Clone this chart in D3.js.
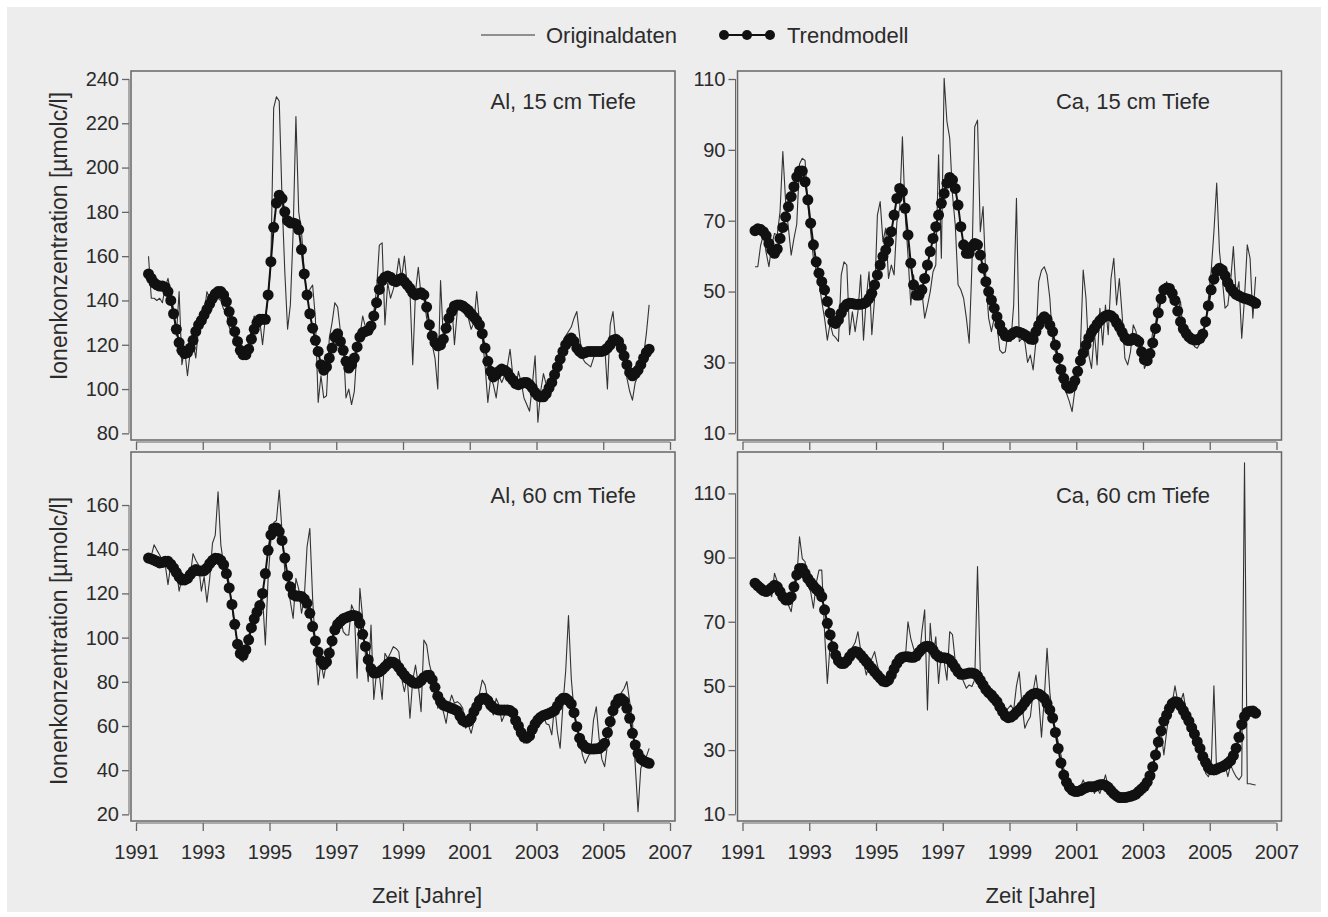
<!DOCTYPE html>
<html>
<head>
<meta charset="utf-8">
<title>Al und Ca Ionenkonzentration</title>
<script src="https://cdn.jsdelivr.net/npm/d3@7"></script>
<style>
body { margin: 0; background: #fff; }
svg { display: block; font-family: "Liberation Sans", Arial, sans-serif; }
</style>
</head>
<body>
<script>
// monthly samples, mid-May 1991 to mid-May 2006
const months = d3.range(181).map(i => 1991 + (4.5 + i) / 12);
const xTicks = [1991, 1993, 1995, 1997, 1999, 2001, 2003, 2005, 2007];
const yTicksAl15 = [80, 100, 120, 140, 160, 180, 200, 220, 240];
const yTicksAl60 = [20, 40, 60, 80, 100, 120, 140, 160];
const yTicksCa = [10, 30, 50, 70, 90, 110];

// Al, 15 cm
const al15 = [160, 141, 141, 140, 141, 139, 146, 150,
  143, 136, 124, 144, 111, 118, 106, 117, 121, 114, 128, 131,
  134, 144, 141, 142, 144, 141, 140, 136, 135, 128, 125, 123,
  124, 115, 114, 118, 121, 127, 133, 130, 131, 120, 132, 141,
  157, 227, 232, 230, 186, 153, 127, 138, 171, 223, 180, 171,
  153, 142, 145, 147, 132, 94, 106, 96, 97, 123, 130, 139,
  137, 126, 121, 96, 100, 93, 99, 118, 124, 133, 128, 126,
  130, 135, 145, 165, 166, 129, 148, 141, 145, 150, 159, 150,
  160, 147, 144, 111, 144, 155, 142, 141, 132, 127, 120, 114,
  100, 149, 123, 132, 127, 139, 120, 135, 138, 136, 133, 132,
  127, 130, 144, 130, 123, 111, 94, 105, 102, 96, 106, 103,
  106, 110, 118, 106, 100, 108, 103, 96, 93, 90, 102, 115,
  85, 99, 107, 102, 104, 106, 111, 111, 114, 117, 124, 126,
  128, 132, 135, 124, 114, 112, 111, 110, 114, 117, 117, 117,
  120, 100, 129, 135, 122, 123, 118, 114, 105, 99, 95, 103,
  106, 111, 115, 125, 138];
const al15Trend = [152, 150, 148, 147, 146.5, 146.5, 146, 144,
  140, 134, 127, 121, 117.5, 116, 116.5, 118.5, 122, 126, 129, 131,
  133.5, 136, 138.5, 141, 143, 144, 144, 142.5, 139.5, 135, 130.5, 126,
  121.5, 117.5, 115.5, 115.5, 118, 122.5, 127, 130, 131.5, 131.5, 131.5, 142.5,
  157.5, 173, 184, 187.5, 186, 180, 176, 175, 175, 174.5, 172, 163,
  152, 142.5, 134, 127.5, 122, 117, 111, 108.5, 110, 114, 118.5, 123.5,
  125, 121.5, 117.5, 112.5, 109.5, 111, 114, 119, 123.5, 125.5, 126, 126.5,
  128.5, 133, 139, 145, 149, 150.5, 151, 150.5, 149, 148.5, 149.5, 150,
  148.5, 147, 145.5, 143.5, 142.5, 143, 143.5, 142.5, 137, 129, 124, 121,
  119.5, 120, 122.5, 127.5, 132, 135, 137.5, 138, 138, 137.5, 136.5, 135.5,
  134, 132.5, 131, 129, 125, 118.5, 112.5, 108, 105.5, 106.5, 108, 109,
  108.5, 107.5, 105.5, 104, 102.5, 102, 102.5, 103, 103, 102, 100.5, 98.5,
  97, 96.5, 96.5, 98, 100.5, 103, 106.5, 110, 113.5, 117, 120, 122,
  123, 121.5, 118.5, 117, 116, 116.5, 117, 117, 117, 117, 117, 117,
  117.5, 118.5, 120, 122, 122.5, 121.5, 118.5, 115, 111, 107.5, 106, 107,
  108.5, 111, 114, 116.5, 118];

// Ca, 15 cm
const ca15 = [57, 57, 63, 66, 61, 57, 63, 66.4,
  66, 72.6, 89.5, 75.4, 68, 60.3, 65, 69, 86, 87.6, 87, 74.4,
  67, 59.4, 56, 52.8, 47.2, 42.5, 36.3, 41, 37.8, 37, 35.9, 54.7,
  58.4, 57.5, 37.8, 44.3, 38.7, 44.3, 54.7, 36.3, 48.1, 55.6, 37.8, 48.1,
  71.6, 75.4, 64.1, 67.9, 53.7, 57.5, 54.7, 69.7, 73.5, 93.7, 71.6, 60.3,
  46.2, 54.7, 48.1, 48.1, 50, 42.5, 46, 50, 55.6, 57.5, 88.6, 59.4,
  110.2, 98, 93.3, 77.3, 68.8, 51.9, 50.5, 48.1, 42.5, 35.4, 57.5, 96.5,
  98.4, 66.9, 74, 53.7, 42.5, 38.7, 42.5, 40.6, 33.5, 32.6, 33, 38.7,
  35.9, 46.2, 76.3, 35.9, 36.8, 35.9, 30, 32.1, 27.9, 35.9, 52.8, 56,
  57, 54.7, 48.1, 35.9, 33, 31.2, 27.4, 23.6, 21.3, 19, 16.1, 22.2,
  23.6, 34, 56.1, 48.1, 32.1, 28.3, 38.7, 29.3, 45.3, 34.9, 46.2, 37.8,
  53.7, 59.4, 46.2, 53.7, 43.4, 31.2, 29.3, 33, 40.6, 38.7, 33, 35.9,
  28.3, 30.2, 32.6, 38.7, 40.6, 47.2, 49, 48.1, 52.8, 48.1, 47, 46.2,
  44.3, 47.2, 37.8, 38.7, 37, 36.8, 34.5, 34, 35.4, 37.8, 40.6, 48,
  55.6, 66.9, 80.6, 61.3, 53.7, 45.3, 46.2, 52.8, 62.7, 49, 52.8, 36.8,
  48.1, 63.2, 59.4, 42.5, 54.2];
const ca15Trend = [67.2, 67.7, 67.5, 66.9, 65.8, 63.6, 61.7, 60.8,
  62, 65, 68.1, 71.1, 74, 76.8, 79.6, 82.4, 84, 84, 81, 75.9,
  69.3, 63.2, 58.4, 55.2, 52.8, 50.5, 47.2, 43.9, 41.5, 41, 42, 43.9,
  45.5, 46.4, 46.7, 46.6, 46.4, 46.4, 46.4, 46.6, 47, 48.1, 49.5, 51.9,
  54.7, 57.5, 59.9, 61.7, 64.1, 66.9, 71.6, 76.3, 79.1, 78.2, 73.5, 66,
  58, 51.9, 49, 49, 50.5, 53.7, 57.5, 61.3, 65, 68.3, 71.6, 74.9,
  77.7, 80.6, 82.2, 81.5, 79.1, 74.4, 68.3, 63.2, 60.8, 60.8, 62.7, 63.6,
  63.2, 60.3, 56.6, 52.8, 50, 47.6, 45.3, 42.9, 40.6, 38.7, 37.5, 37.3,
  37.8, 38.4, 38.7, 38.5, 38.2, 37.8, 37.3, 36.6, 36.5, 38.7, 40.5, 42,
  42.9, 42.2, 40.5, 38.7, 34.9, 31.2, 28, 25.5, 23.5, 22.7, 23.2, 24.8,
  27.5, 30.5, 32.6, 34.9, 36.9, 38.5, 39.6, 40.8, 41.8, 42.6, 43.1, 43.4,
  43.2, 42.5, 41.2, 40, 38.5, 37, 36.2, 36.2, 36.8, 36.5, 35.9, 33,
  30.8, 30.5, 32.5, 35.5, 39.6, 44, 48, 50.5, 51, 50.9, 49.5, 47.5,
  44.5, 41.5, 39.5, 38.2, 37.2, 36.6, 36.3, 36.4, 36.8, 38, 41.5, 46,
  50.5, 53.5, 55.8, 56.6, 56.1, 54.5, 52.5, 51, 50, 49.2, 48.8, 48.4,
  48.1, 47.9, 47.6, 47.2, 46.7];

// Al, 60 cm
const al60 = [136, 137, 142, 139.6, 137.4, 135, 133, 124,
  133, 134.4, 131, 121, 126.8, 127.6, 129.8, 127.6, 138, 135, 132.9, 121,
  127.6, 116, 126.8, 142.7, 146.4, 166, 142, 133, 133, 124, 114, 105,
  98, 90, 89, 96, 101, 105, 110.2, 110.2, 114.8, 118.5, 96.7, 126.8,
  144.2, 152, 153, 166.8, 148, 130, 124.6, 116.3, 108.7, 126.8, 122, 111,
  117.8, 141.1, 149.4, 117.8, 95.9, 78.6, 89.1, 81.6, 89.1, 93.6, 99.7, 106.5,
  107.2, 109.5, 102.7, 101.2, 101.2, 114.8, 111.7, 81.6, 122.3, 108.7, 92, 80,
  105.7, 72, 84.6, 83.1, 72, 92.9, 90.6, 93, 95.9, 95.1, 93.6, 81.6,
  75.5, 82.3, 63.5, 80.8, 87.6, 78.6, 66.5, 98.9, 96.7, 88, 83.1, 78.6,
  68, 71, 66.5, 61.2, 69.5, 74, 70.3, 71, 70, 68, 59, 60.5,
  56.7, 62, 66.5, 74.8, 80.8, 78.6, 72, 68, 65, 72.5, 69.5, 62,
  65, 66.5, 68, 65, 62, 60.5, 56, 52.2, 54.4, 56, 57.4, 62,
  65, 62, 65, 61, 60.5, 56, 69.5, 57.4, 49.9, 69.5, 85, 110,
  81.6, 66.5, 59, 54.4, 46.9, 43.1, 46, 48.4, 62.7, 68.7, 54.4, 45,
  41.6, 51.4, 57.4, 63.5, 68, 72.5, 75, 77, 80.1, 71, 62, 42.4,
  21.2, 40.9, 43.5, 46.1, 49.9];
const al60Trend = [136, 135.6, 135.1, 134.5, 133.8, 134, 134.6, 134.5,
  133.2, 131.5, 129.5, 127.5, 126.1, 126.1, 126.8, 128.5, 130, 130.8, 130.3, 130.1,
  130.3, 131.5, 133.5, 135, 135.9, 135.8, 135, 133, 129, 122.5, 115, 106,
  97, 92.8, 92, 94.5, 99, 104.5, 108.5, 111.5, 114.5, 120, 129, 139.5,
  146.5, 149.4, 149.6, 148, 144, 136, 128, 123, 119.5, 118.8, 118.8, 118.6,
  117.5, 115.5, 111, 105, 98.5, 93.5, 89.5, 87.8, 89, 93, 98.5, 103.5,
  106, 107.3, 108.5, 109, 109.5, 110, 110, 109.5, 106.5, 101.5, 96, 90,
  86, 84, 84, 84.5, 85.5, 86.8, 88, 89, 88.9, 88, 86.5, 84.6,
  83, 81.5, 80.8, 79.7, 79.3, 79.5, 80.5, 82, 82.8, 83, 81, 77.5,
  73.5, 71, 69.5, 69, 68.5, 68, 67.5, 66.8, 64.5, 62.5, 61.8, 62,
  63.5, 66.5, 68.8, 71.5, 72.5, 72.5, 71.5, 69.5, 68.3, 67.6, 67.2, 67.2,
  67.2, 67.2, 67, 66, 62.5, 60, 57, 55, 54.5, 55.5, 58.5, 61,
  62.8, 64, 64.8, 65.2, 65.7, 66.3, 67, 69, 71.3, 72.5, 72.5, 71.5,
  70, 66, 59.7, 54.5, 51.8, 50.5, 49.8, 49.6, 49.6, 49.7, 49.8, 50.8,
  52.2, 57, 62, 67, 70, 72.2, 72.4, 71.2, 68, 63.5, 56.7, 51.4,
  47.5, 45.2, 44.2, 43.6, 43.1];

// Ca, 60 cm
const ca60 = [82.5, 81.4, 80.4, 80.4, 78.8, 79.4, 77.8, 85.1,
  82.5, 81.4, 77.8, 75.7, 75.2, 73.1, 79.4, 83.5, 96.5, 89.7, 88.7, 81.4,
  79.4, 74.2, 82, 86.1, 86.1, 66.9, 50.8, 62.8, 59.6, 57.6, 57.6, 57.6,
  58.5, 59.1, 60.2, 62, 63.5, 66.9, 61, 57.6, 53.4, 56.5, 58.5, 60.7,
  56.5, 53.4, 51.8, 51.8, 52, 53.4, 56.5, 59.6, 60.2, 57, 58, 70,
  64.8, 61.7, 58.6, 58, 66.9, 73.7, 42.5, 69.5, 58.6, 65.3, 50.8, 60.7,
  57.6, 51.8, 66.9, 66, 57.6, 52.4, 53.4, 51.3, 49.3, 50.3, 49.8, 52,
  87.2, 54.4, 52.4, 49.3, 45.6, 46.1, 47.7, 45.1, 43, 42, 42, 43,
  44, 42.5, 50, 54.4, 44, 36.8, 38.9, 40.4, 48.2, 53.4, 46.1, 34,
  46.1, 61.7, 48, 40, 36.8, 32.6, 28.5, 24.3, 21.7, 19.1, 18.1, 17.1,
  18, 18.6, 20.7, 18.5, 17.1, 19.1, 16.5, 18.1, 16.5, 19.1, 22.3, 18.6,
  17.1, 16, 15, 14.5, 14.7, 15, 15.5, 16, 16.5, 17, 17.8, 19,
  19.7, 21.2, 22.8, 25, 30, 34.5, 35.8, 28.5, 35.8, 42, 44.6, 50,
  45.1, 45.1, 47.7, 42, 38.9, 36, 33, 30, 29, 27.4, 22.8, 21.7,
  24, 50, 22.3, 23.8, 24.3, 25.4, 21.7, 25.4, 23.3, 21.7, 20.7, 22,
  119.5, 19.5, 19.5, 19.3, 19.1];
const ca60Trend = [82, 81.2, 80.4, 79.7, 79.4, 79.9, 80.6, 81.4,
  80.9, 79.4, 77.8, 76.8, 76.8, 77.8, 80.9, 84.6, 86.6, 86.6, 85.1, 83.5,
  82.3, 81.2, 80.2, 79.4, 77.8, 73.7, 69.5, 65.9, 62.2, 59.6, 57.8, 57,
  57, 57.8, 59.1, 60.2, 60.7, 60.5, 59.6, 58.6, 57.6, 56.5, 55.5, 54.4,
  53.4, 52.4, 51.5, 51.3, 51.8, 53.4, 55.3, 57, 58.3, 58.9, 59.1, 59.1,
  58.9, 58.9, 59.4, 60.5, 61.5, 62.2, 62.4, 62.2, 61.2, 59.9, 59.1, 58.8,
  58.8, 58.6, 58.1, 57, 55.7, 54.4, 53.6, 53.6, 53.8, 54, 54, 53.8,
  53.1, 51.8, 50.3, 48.9, 47.9, 47.2, 46.1, 45.1, 43.5, 42, 40.7, 40.1,
  40.3, 40.9, 41.8, 42.5, 43.6, 44.8, 45.9, 46.9, 47.5, 47.7, 47.5, 46.9,
  46.1, 44.5, 42.5, 40, 35.5, 30.5, 26, 22.2, 20, 18.5, 17.5, 17.1,
  17.1, 17.4, 17.9, 18.3, 18.6, 18.6, 18.6, 18.9, 19.2, 19.3, 19, 18.4,
  17.4, 16.4, 15.7, 15.2, 15.2, 15.2, 15.4, 15.6, 15.9, 16.3, 17.1, 17.9,
  18.7, 20, 22, 24.8, 28.5, 32.5, 36, 39, 40.9, 43, 44.5, 45.1,
  44.9, 43.8, 42.3, 40.7, 39, 37, 35, 32.6, 30.5, 28, 26.2, 24.6,
  23.9, 23.8, 24.1, 24.5, 24.8, 25.3, 25.9, 26.7, 28.3, 30.6, 34, 38,
  40.5, 41.8, 42.1, 42.2, 41.5];

const panels = [
  {title: "Al, 15 cm Tiefe", raw: al15, trend: al15Trend, yTicks: yTicksAl15, yDomain: [77, 243.6], col: 0, row: 0},
  {title: "Ca, 15 cm Tiefe", raw: ca15, trend: ca15Trend, yTicks: yTicksCa, yDomain: [8.1, 112.26], col: 1, row: 0},
  {title: "Al, 60 cm Tiefe", raw: al60, trend: al60Trend, yTicks: yTicksAl60, yDomain: [17, 184], col: 0, row: 1},
  {title: "Ca, 60 cm Tiefe", raw: ca60, trend: ca60Trend, yTicks: yTicksCa, yDomain: [7.9, 122.9], col: 1, row: 1}
];

const colX = [131, 737.5], rowY = [71, 452], boxW = 544, boxH = 369;
const titleX = [505, 472.5], titleY = [38, 51];
const yLabelMid = [165, 189];
const ink = "#2b2b2b", frame = "#666";

const svg = d3.select("body").append("svg")
    .attr("width", 1328)
    .attr("height", 917);

svg.append("rect")
    .attr("x", 7).attr("y", 7)
    .attr("width", 1314).attr("height", 905)
    .attr("fill", "#ededed");

const x = d3.scaleLinear().domain([1990.85, 2007.15]).range([0, boxW]);

panels.forEach(p => {
    const g = svg.append("g")
        .attr("transform", "translate(" + colX[p.col] + "," + rowY[p.row] + ")");
    const y = d3.scaleLinear().domain(p.yDomain).range([boxH, 0]);

    g.append("rect")
        .attr("width", boxW).attr("height", boxH)
        .attr("fill", "none")
        .attr("stroke", frame)
        .attr("stroke-width", 1.5);

    // y axis, just outside the box
    const ya = g.append("g")
        .attr("transform", "translate(-2,0)")
        .call(d3.axisLeft(y).tickValues(p.yTicks).tickSize(7).tickPadding(3));
    ya.select(".domain").remove();
    ya.append("line")
        .attr("y1", y(p.yTicks[0])).attr("y2", y(p.yTicks[p.yTicks.length - 1]))
        .attr("stroke", frame);

    // x axis, ticks on every panel, labels on the bottom row
    const xa = g.append("g")
        .attr("transform", "translate(0," + (boxH + 2) + ")")
        .call(d3.axisBottom(x).tickValues(xTicks).tickSize(8).tickPadding(14)
            .tickFormat(p.row === 1 ? d3.format("d") : ""));
    xa.select(".domain").remove();
    xa.append("line")
        .attr("x1", x(xTicks[0])).attr("x2", x(xTicks[xTicks.length - 1]))
        .attr("stroke", frame);

    [ya, xa].forEach(a => {
        a.selectAll(".tick line").attr("stroke", frame).attr("stroke-width", 1.3);
        a.selectAll(".tick text").attr("fill", ink).attr("font-size", 20)
            .attr("font-family", "Liberation Sans, Arial, sans-serif");
    });

    const line = d3.line()
        .x((d, i) => x(months[i]))
        .y(d => y(d));

    g.append("path")
        .datum(p.raw)
        .attr("d", line)
        .attr("fill", "none")
        .attr("stroke", "#333")
        .attr("stroke-width", 1.1)
        .attr("stroke-linejoin", "round");

    g.append("path")
        .datum(p.trend)
        .attr("d", line)
        .attr("fill", "none")
        .attr("stroke", "#111")
        .attr("stroke-width", 2);

    g.selectAll("circle.trend")
        .data(p.trend)
        .join("circle")
        .attr("class", "trend")
        .attr("cx", (d, i) => x(months[i]))
        .attr("cy", d => y(d))
        .attr("r", 5.5)
        .attr("fill", "#111");

    g.append("text")
        .attr("x", titleX[p.col])
        .attr("y", titleY[p.row])
        .attr("text-anchor", "end")
        .attr("font-size", 22)
        .attr("fill", ink)
        .text(p.title);

    if (p.col === 0) {
        g.append("text")
            .attr("transform", "translate(-64," + yLabelMid[p.row] + ") rotate(-90)")
            .attr("text-anchor", "middle")
            .attr("font-size", 23)
            .attr("fill", ink)
            .text("Ionenkonzentration [µmolc/l]");
    }
    if (p.row === 1) {
        g.append("text")
            .attr("x", boxW / 2 + (p.col === 0 ? 24 : 31))
            .attr("y", boxH + 82)
            .attr("text-anchor", "middle")
            .attr("font-size", 22)
            .attr("fill", ink)
            .text("Zeit [Jahre]");
    }
});

// legend
const legend = svg.append("g");
legend.append("line")
    .attr("x1", 481).attr("x2", 535).attr("y1", 35).attr("y2", 35)
    .attr("stroke", "#333").attr("stroke-width", 1.2);
legend.append("text")
    .attr("x", 546).attr("y", 43)
    .attr("font-size", 22).attr("fill", ink)
    .text("Originaldaten");
legend.append("line")
    .attr("x1", 724).attr("x2", 770).attr("y1", 35).attr("y2", 35)
    .attr("stroke", "#111").attr("stroke-width", 2);
legend.selectAll("circle")
    .data([724, 747, 770])
    .join("circle")
    .attr("cx", d => d).attr("cy", 35).attr("r", 5)
    .attr("fill", "#111");
legend.append("text")
    .attr("x", 787).attr("y", 43)
    .attr("font-size", 22).attr("fill", ink)
    .text("Trendmodell");
</script>
</body>
</html>
